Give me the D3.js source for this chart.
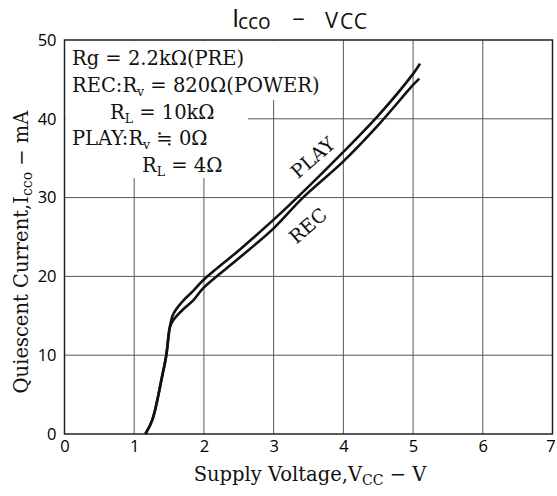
<!DOCTYPE html>
<html>
<head>
<meta charset="utf-8">
<script src="https://cdn.jsdelivr.net/npm/d3@7"></script>
<style>
  html, body { margin: 0; padding: 0; background: #fff; }
  svg { display: block; }
</style>
</head>
<body>
<svg id="chart" width="557" height="496"></svg>
<script>
// ---- data ----
const xTicks = [0, 1, 2, 3, 4, 5, 6, 7];
const yTicks = [0, 10, 20, 30, 40, 50];
const playV = [1.16, 1.26, 1.40, 1.46, 1.51, 1.55, 1.60, 1.70, 1.85, 2.00, 2.50, 3.00, 3.50, 4.00, 4.50, 5.00, 5.10];
const playI = [0.0, 1.8, 7.3, 10.0, 13.5, 15.0, 15.8, 16.9, 18.2, 19.6, 23.3, 27.2, 31.4, 35.8, 40.4, 45.7, 47.0];
const recV = [1.16, 1.26, 1.40, 1.46, 1.51, 1.55, 1.60, 1.70, 1.85, 2.00, 2.50, 3.00, 3.42, 4.00, 4.50, 5.00, 5.09];
const recI = [0.0, 1.8, 7.3, 10.0, 13.5, 14.3, 14.9, 15.8, 17.0, 18.6, 22.3, 26.1, 30.0, 34.6, 39.2, 44.3, 45.1];
const seriesNames = ["PLAY", "REC"];
const legendLines = [
  [["Rg = 2.2kΩ(PRE)", null]],
  [["REC:R", null], ["v", "sub"], [" = 820Ω(POWER)", null]],
  [["R", null], ["L", "sub"], [" = 10kΩ", null]],
  [["PLAY:R", null], ["v", "sub"], [" ≒ 0Ω", null]],
  [["R", null], ["L", "sub"], [" = 4Ω", null]]
];

// ---- layout ----
const svg = d3.select("#chart");
const x = d3.scaleLinear().domain([0, 7]).range([64.5, 552.5]);
const y = d3.scaleLinear().domain([0, 50]).range([434, 40]);
const serif = "'DejaVu Serif', 'Liberation Serif', serif";
const sans = "'Open Sans', 'DejaVu Sans', sans-serif";

// grid
const grid = svg.append("g");
grid.selectAll("line.v").data(xTicks.slice(1, -1)).join("line")
  .attr("x1", d => x(d)).attr("x2", d => x(d))
  .attr("y1", y(0)).attr("y2", y(50))
  .attr("stroke", "#555").attr("stroke-width", 1);
grid.selectAll("line.h").data(yTicks.slice(1, -1)).join("line")
  .attr("x1", x(0)).attr("x2", x(7))
  .attr("y1", d => y(d)).attr("y2", d => y(d))
  .attr("stroke", "#555").attr("stroke-width", 1);

// white legend background (hides grid)
svg.append("path")
  .attr("d", `M${x(0)+1},${y(50)+1} H330 V100 H248 V178 H${x(0)+1} Z`)
  .attr("fill", "#fff");

// frame
svg.append("rect")
  .attr("x", x(0)).attr("y", y(50))
  .attr("width", x(7) - x(0)).attr("height", y(0) - y(50))
  .attr("fill", "none").attr("stroke", "#222").attr("stroke-width", 1.5);

// axes tick labels
const xAxis = d3.axisBottom(x).tickValues(xTicks).tickSize(0).tickPadding(6).tickFormat(d3.format("d"));
const gx = svg.append("g").attr("transform", `translate(0,${y(0)})`).call(xAxis);
gx.select(".domain").remove();
gx.selectAll("text").attr("font-family", sans).attr("font-size", 16.5).attr("fill", "#000");
gx.selectAll(".tick").filter(d => d === 7).select("text").attr("dx", -2);

const yAxis = d3.axisLeft(y).tickValues(yTicks).tickSize(0).tickPadding(8).tickFormat(d3.format("d"));
const gy = svg.append("g").attr("transform", `translate(${x(0)},0)`).call(yAxis);
gy.select(".domain").remove();
gy.selectAll("text").attr("font-family", sans).attr("font-size", 16.5).attr("fill", "#000");

// curves
const line = d3.line().x(d => x(d[0])).y(d => y(d[1])).curve(d3.curveCatmullRom.alpha(0.5));
const playData = playV.map((v, i) => [v, playI[i]]);
const recData = recV.map((v, i) => [v, recI[i]]);
[playData, recData].forEach(data => {
  svg.append("path").datum(data).attr("d", line)
    .attr("fill", "none").attr("stroke", "#111").attr("stroke-width", 2.6)
    .attr("stroke-linejoin", "round");
});

// curve labels
svg.append("text").attr("transform", "translate(314,159) rotate(-41)")
  .attr("text-anchor", "middle").attr("dominant-baseline", "middle")
  .attr("font-family", serif).attr("font-size", 19).attr("fill", "#111").text(seriesNames[0]);
svg.append("text").attr("transform", "translate(309,227) rotate(-41)")
  .attr("text-anchor", "middle").attr("dominant-baseline", "middle")
  .attr("font-family", serif).attr("font-size", 19).attr("fill", "#111").text(seriesNames[1]);

// legend text
const legX = [72, 72, 110, 72, 142];
const legY = [65, 92, 119, 145, 172];
legendLines.forEach((parts, i) => {
  const t = svg.append("text").attr("x", legX[i]).attr("y", legY[i])
    .attr("font-family", serif).attr("font-size", 19.5).attr("fill", "#111");
  parts.forEach(([s, kind]) => {
    if (kind === "sub") {
      t.append("tspan").attr("dy", 4).attr("font-size", 12.5).text(s);
    } else {
      const ts = t.append("tspan").text(s);
      if (t.node().childNodes.length > 1) ts.attr("dy", -4);
    }
  });
});

// title
const tg = svg.append("g").attr("font-family", sans).attr("fill", "#111");
tg.append("text").attr("x", 232).attr("y", 27).attr("font-size", 26).text("I");
tg.append("text").attr("x", 238).attr("y", 29).attr("font-size", 21).text("cco");
tg.append("text").attr("x", 298.5).attr("y", 27).attr("text-anchor", "middle").attr("font-size", 22).text("−");
tg.append("text").attr("x", 325).attr("y", 28).attr("font-size", 22).text("V");
tg.append("text").attr("x", 340).attr("y", 29).attr("font-size", 21).attr("letter-spacing", 0.5).text("CC");

// x label
const xl = svg.append("text").attr("x", 310).attr("y", 481).attr("text-anchor", "middle")
  .attr("font-family", serif).attr("font-size", 19.5).attr("fill", "#111");
xl.append("tspan").text("Supply Voltage,V");
xl.append("tspan").attr("dy", 4).attr("font-size", 14).text("CC");
xl.append("tspan").attr("dy", -4).text(" − V");

// y label
const yl = svg.append("text").attr("transform", "translate(28,252) rotate(-90)").attr("text-anchor", "middle")
  .attr("font-family", serif).attr("font-size", 19.5).attr("fill", "#111");
yl.append("tspan").text("Quiescent Current,I");
yl.append("tspan").attr("dy", 4).attr("font-size", 14).text("cco");
yl.append("tspan").attr("dy", -4).text(" − mA");
</script>
</body>
</html>
